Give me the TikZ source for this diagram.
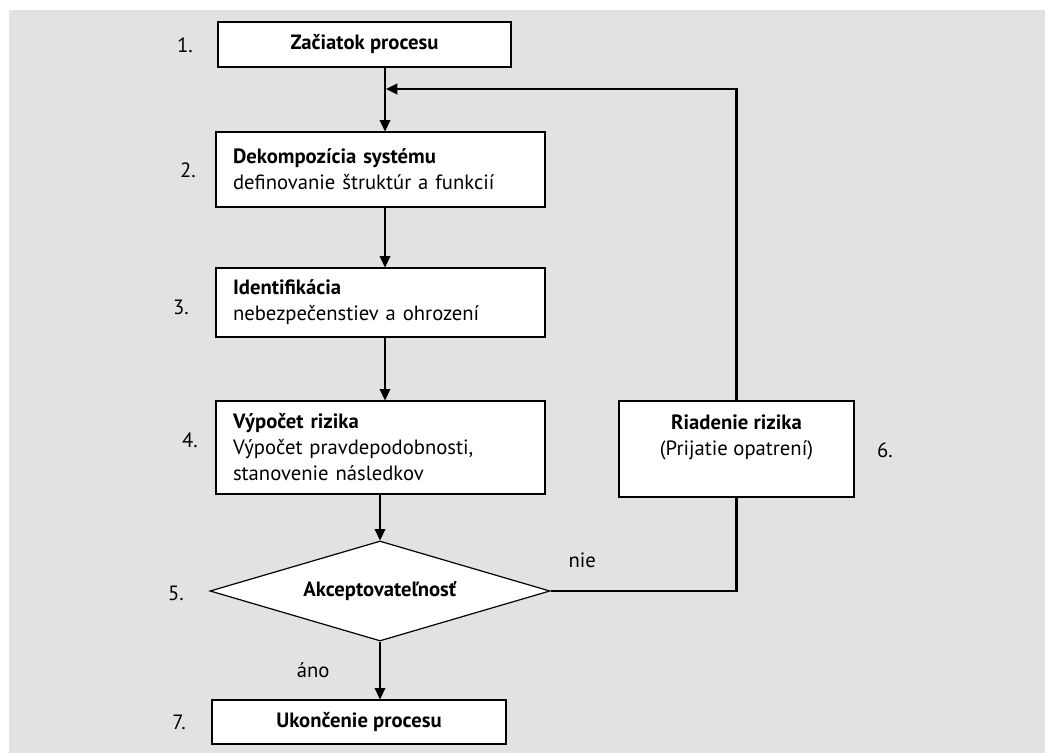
\documentclass[tikz,border=0pt]{standalone}
\usepackage{fontspec}
\setmainfont{PT Sans}
\usetikzlibrary{arrows.meta,shapes.geometric}
\definecolor{bggray}{RGB}{226,226,226}
\tikzset{
  stepbox/.style={draw,fill=white,line width=0.9pt,inner sep=0pt},
  leftbox/.style={stepbox,align=left,inner xsep=12.75pt,text width=221.25pt,
    minimum width=246.75pt},
  decision/.style={draw,fill=white,line width=0.9pt,diamond,aspect=3.4,inner sep=0pt,
    minimum width=255pt,minimum height=75pt},
  conn/.style={line width=1.1pt,-{Triangle[length=8.5pt,width=8pt]}},
  loopline/.style={line width=1.7pt},
  numlabel/.style={inner sep=0pt}
}
\begin{document}
\begin{tikzpicture}[x=0.75pt,y=-0.75pt,font=\fontsize{15.5}{19.5}\selectfont]
	\useasboundingbox (0,0) rectangle (1045,753);
	\fill[bggray] (9,10) rectangle (1045,753);

	% steps of the process
	\node[stepbox,minimum width=219.75pt,minimum height=33.75pt] (start)
		at (364.5,44.5) {\textbf{Začiatok procesu}};
	\node[leftbox,minimum height=56.25pt] (decomp) at (380.5,169.5)
		{\textbf{Dekompozícia systému}\\definovanie štruktúr a funkcií};
	\node[leftbox,minimum height=51.75pt] (ident) at (380.5,302.5)
		{\textbf{Identifikácia}\\nebezpečenstiev a ohrození};
	\node[leftbox,minimum height=69.75pt] (calc) at (380.5,447.5)
		{\textbf{Výpočet rizika}\\Výpočet pravdepodobnosti,\\stanovenie následkov};
	\node[decision] (accept) at (380,591) {\textbf{Akceptovateľnosť}};
	\node[stepbox,minimum width=176.25pt,minimum height=72pt,
		label={[anchor=north,align=center,yshift=-7pt]north:{\textbf{Riadenie rizika}\\(Prijatie opatrení)}}]
		(risk) at (736.5,449) {};
	\node[stepbox,minimum width=220.5pt,minimum height=33pt] (stop)
		at (359,722) {\textbf{Ukončenie procesu}};

	% numbers
	\node[numlabel] (n1) at (185,45) {1.};
	\node[numlabel] (n2) at (188,170) {2.};
	\node[numlabel] (n3) at (181,307) {3.};
	\node[numlabel] (n4) at (190,440) {4.};
	\node[numlabel] (n5) at (176,593) {5.};
	\node[numlabel] (n6) at (885,450) {6.};
	\node[numlabel] (n7) at (179,722) {7.};

	% connectors
	\coordinate (trunk) at (385,0);
	\coordinate (join) at (386,89);
	\draw[conn] (start.south -| trunk) -- (decomp.north -| trunk);
	\draw[conn] (decomp.south -| trunk) -- (ident.north -| trunk);
	\draw[conn] (ident.south -| trunk) -- (calc.north -| trunk);
	\draw[conn] (calc.south -| accept) -- (accept.north);
	\draw[conn] (accept.south) -- (accept.south |- stop.north)
		node[midway,left=34pt] {áno};

	% loop back
	\draw[loopline] (accept.east) -| (risk.south)
		node[pos=0.085,above=13pt] {nie};
	\draw[loopline,-{Triangle[length=8.5pt,width=8pt]}] (risk.north) |- (join);
\end{tikzpicture}
\end{document}
